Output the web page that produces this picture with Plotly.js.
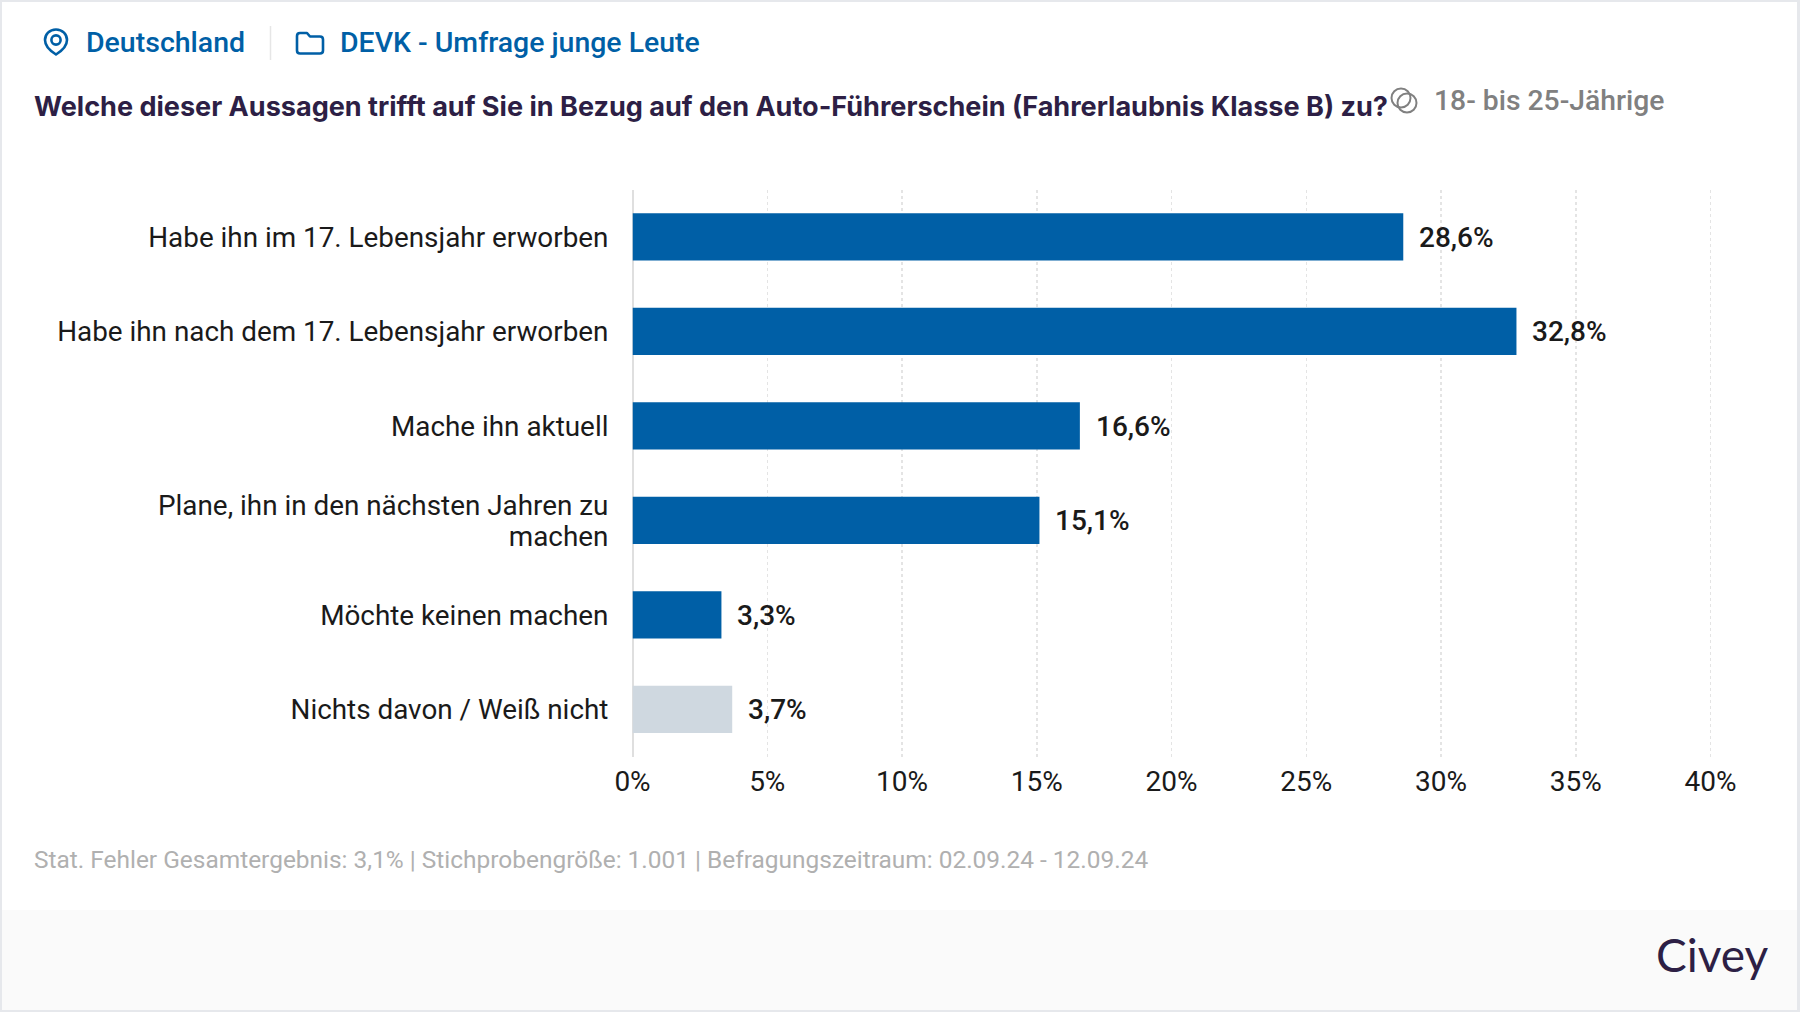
<!DOCTYPE html>
<html><head><meta charset="utf-8">
<script src="https://cdn.plot.ly/plotly-3.0.1.min.js"></script>
<style>
html,body{margin:0;padding:0;background:#fff;width:1800px;height:1012px;overflow:hidden}
#chart{position:absolute;left:0;top:0;width:1800px;height:1012px}
svg.ic{position:absolute;left:0;top:0;pointer-events:none}
</style></head><body>
<div id="chart"></div>
<svg class="ic" width="1800" height="1012" fill="none">
  <g stroke="#005fa6" stroke-width="2.6">
    <path d="M56 29.5c-6.6 0-11 5-11 10.6 0 6.4 6 11.4 11 14.4 5-3 11-8 11-14.4 0-5.6-4.4-10.6-11-10.6z"/>
    <circle cx="56" cy="40" r="4.6"/>
    <path stroke-linejoin="round" d="M297 36c0-2 1-3 3-3h7l3 3.5h10c2 0 3 1 3 3v11c0 2-1 3-3 3h-20c-2 0-3-1-3-3z"/>
  </g>
  <g stroke="#808080" stroke-width="2">
    <circle cx="1401" cy="98" r="9.5"/><circle cx="1407" cy="103" r="9.5"/>
  </g>
</svg>
<script>
const categories = ["Habe ihn im 17. Lebensjahr erworben","Habe ihn nach dem 17. Lebensjahr erworben","Mache ihn aktuell","Plane, ihn in den nächsten Jahren zu<br>machen","Möchte keinen machen","Nichts davon / Weiß nicht"];
const values = [28.6,32.8,16.6,15.1,3.3,3.7];
const barColors = ["#005fa6","#005fa6","#005fa6","#005fa6","#005fa6","#cfd8e0"];
const tickValues = [0,5,10,15,20,25,30,35,40];
const tickLabels = ["0%","5%","10%","15%","20%","25%","30%","35%","40%"];

const W=1800,H=1012;
const fx=p=>p/W, fy=p=>1-p/H;
function txt(text,x,y,size,color,family,anchor,weight){
  return {text,xref:'paper',yref:'paper',x:fx(x),y:fy(y),xanchor:anchor||'left',yanchor:'middle',showarrow:false,
    font:{size,color,family,weight:weight||400}};
}
const annotations=[
  txt("Deutschland",84,42.5,28.5,"#005fa6","Roboto",'left',500),
  txt("DEVK - Umfrage junge Leute",338,42.5,28.45,"#005fa6","Roboto",'left',500),
  txt("Welche dieser Aussagen trifft auf Sie in Bezug auf den Auto-Führerschein (Fahrerlaubnis Klasse B) zu?",32,106,27.05,"#2d1f45","Inter",'left',700),
  txt("18- bis 25-Jährige",1432,101,28.3,"#808080","Roboto",'left',500),
  txt("Stat. Fehler Gesamtergebnis: 3,1% | Stichprobengröße: 1.001 | Befragungszeitraum: 02.09.24 - 12.09.24",32,859,24.45,"#b0b0b0","Roboto",'left',400),
  txt("Civey",1771,954,46,"#2d1f45","Lato",'right',400)
];
values.forEach((v,i)=>annotations.push({x:v,y:categories[i],xref:'x',yref:'y',xanchor:'left',yanchor:'middle',xshift:14,yshift:-0.5,showarrow:false,
  text:v.toFixed(1).replace('.',',')+'%',font:{size:28,color:'#1a1a1a',family:'Roboto',weight:500}}));

const shapes=[
  {type:'rect',xref:'paper',yref:'paper',x0:fx(0),x1:fx(W),y0:fy(0),y1:fy(H),fillcolor:'#e6e8ec',line:{width:0},layer:'below'},
  {type:'rect',xref:'paper',yref:'paper',x0:fx(2),x1:fx(1797),y0:fy(2),y1:fy(1010),fillcolor:'#ffffff',line:{width:0},layer:'below'},
  {type:'rect',xref:'paper',yref:'paper',x0:fx(2),x1:fx(1797),y0:fy(910),y1:fy(1010),fillcolor:'#fafafa',line:{width:0},layer:'below'},
  {type:'line',xref:'paper',yref:'paper',x0:fx(270.5),x1:fx(270.5),y0:fy(26),y1:fy(60),line:{color:'#e6e6e6',width:1.5}}
];
Plotly.newPlot('chart',[{
  type:'bar',orientation:'h',y:categories,x:values,marker:{color:barColors,line:{width:0}},hoverinfo:'skip'
}],{
  width:W,height:H,showlegend:false,paper_bgcolor:'rgba(0,0,0,0)',plot_bgcolor:'rgba(0,0,0,0)',
  bargap:0.5,
  margin:{l:0,r:0,t:0,b:0,pad:0},
  xaxis:{domain:[fx(632.5),fx(1715.89)],range:[0,40.2],tickmode:'array',tickvals:tickValues,ticktext:tickLabels,showgrid:true,gridcolor:'#e4e4e4',griddash:'dot',gridwidth:1.5,
    zeroline:true,zerolinecolor:'#dfdfdf',zerolinewidth:2,showline:false,ticks:'outside',ticklen:0,tickcolor:'rgba(0,0,0,0)',
    tickfont:{family:'Roboto',size:28,color:'#1a1a1a'},fixedrange:true},
  yaxis:{domain:[fy(756.5),fy(189.5)],type:'category',categoryorder:'array',categoryarray:categories,autorange:'reversed',showgrid:false,zeroline:false,showline:false,
    ticks:'outside',ticklen:17.5,tickcolor:'rgba(0,0,0,0)',tickfont:{family:'Roboto',size:27.85,color:'#1a1a1a'},fixedrange:true},
  annotations,shapes
},{displayModeBar:false,staticPlot:true}).then(gd=>{
  // tighten the line spacing of the two-line category label
  gd.querySelectorAll('.ytick text').forEach(t=>{
    const lines=t.querySelectorAll('tspan.line');
    if(lines.length===2){
      const y=parseFloat(lines[0].getAttribute('y'))||0;
      lines[0].setAttribute('y',y+3.4);
      lines[1].setAttribute('y',y+3.4);
      lines[1].setAttribute('dy',(31/27.85)+'em');
    }
  });
});
</script>
</body></html>
